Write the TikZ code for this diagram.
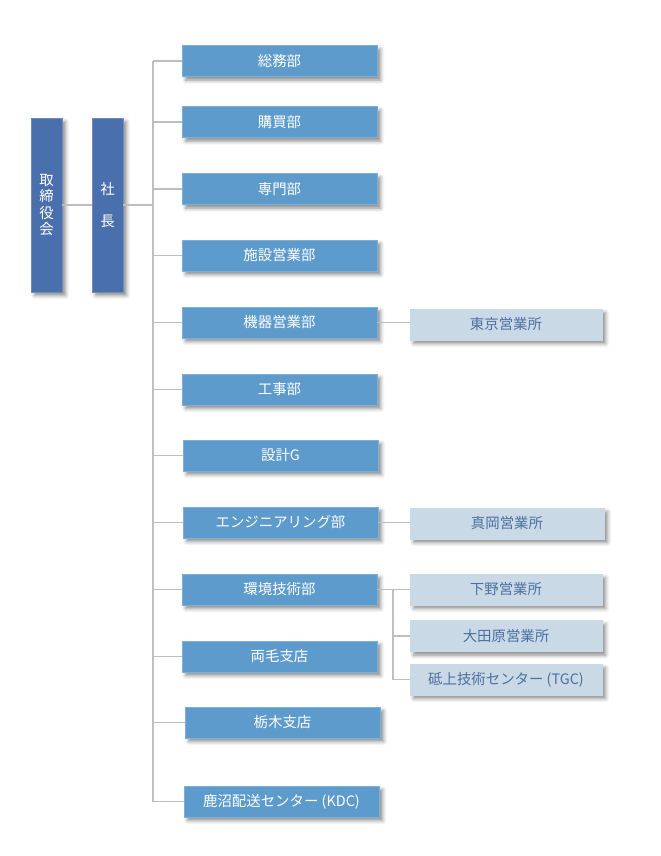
\documentclass[tikz,border=0pt]{standalone}
\usepackage{fontspec}
\setmainfont{Noto Sans CJK JP}
\usetikzlibrary{
    positioning,
    shadows.blur
}
\definecolor{boardblue}{RGB}{74,111,173}
\definecolor{deptblue}{RGB}{94,155,205}
\definecolor{officegray}{RGB}{201,217,229}
\definecolor{officetext}{RGB}{77,111,163}
\definecolor{linegray}{RGB}{190,190,190}
\tikzset{
    % Box styles
    box shadow/.style={
        blur shadow={shadow xshift=1.1mm, shadow yshift=-1.1mm,
            shadow blur radius=1.1mm, shadow opacity=45}
    },
    board box/.style={
        fill=boardblue,
        draw=boardblue!80!white,
        rectangle,
        minimum width=9.3mm,
        minimum height=52.2mm,
        align=center,
        text=white,
        box shadow
    },
    dept box/.style={
        fill=deptblue,
        draw=deptblue!80!white,
        rectangle,
        minimum width=58.5mm,
        minimum height=9.3mm,
        text=white,
        box shadow
    },
    office box/.style={
        fill=officegray,
        draw=officegray,
        rectangle,
        minimum width=57.6mm,
        minimum height=9.3mm,
        text=officetext,
        box shadow
    },
    % Line styles
    org line/.style={
        linegray,
        line width=0.55mm
    }
}

\begin{document}
\begin{tikzpicture}[x=0.3mm, y=-0.3mm, font=\fontsize{12.3}{14}\selectfont]
    \useasboundingbox (0,0) rectangle (660,856);

    % Board and president
    \node[board box, font=\fontsize{12.3}{14.2}\selectfont] at (46.5,205) (board) {取\\締\\役\\会};
    \node[board box, font=\fontsize{12.3}{27}\selectfont] at (107.5,205) (pres) {社\\長};
    \draw[org line] (board) -- (pres);
    \coordinate (trunk) at (153,205);
    \draw[org line] (pres) -- (trunk);

    % Departments
    \foreach \n/\x/\y/\txt in {1/279.5/61/総務部,2/279.5/122/購買部,3/279.5/189/専門部,
        4/279.5/255.5/施設営業部,5/279.5/322.5/機器営業部,6/279.5/389.5/工事部,
        7/280.5/455.5/設計G,8/280.5/522.5/エンジニアリング部,9/279.5/589.5/環境技術部,
        10/279.5/656.5/両毛支店,11/282.5/722.5/栃木支店,12/281.5/801.5/鹿沼配送センター (KDC)} {
        \node[dept box] at (\x,\y) (d\n) {\txt};
        \draw[org line] (d\n.west) -- (trunk |- d\n.west);
    }
    \draw[org line] (trunk |- d1.west) -- (trunk |- d12.west);

    % Offices
    \node[office box] at (506,324.5) (tokyo) {東京営業所};
    \node[office box, minimum width=58.2mm] at (507,523.5) (moka) {真岡営業所};
    \node[office box] at (506,589.5) (shimono) {下野営業所};
    \node[office box] at (506,636) (otawara) {大田原営業所};
    \node[office box] at (506,679.5) (togami) {砥上技術センター (TGC)};

    \draw[org line] (d5.east) -- (d5.east -| tokyo.west);
    \draw[org line] (d8.east) -- (d8.east -| moka.west);
    \draw[org line] (d9.east) -- (shimono.west);
    \coordinate (fork) at (393,589.5);
    \draw[org line] (fork) |- (otawara.west);
    \draw[org line] (fork) |- (togami.west);
\end{tikzpicture}
\end{document}
